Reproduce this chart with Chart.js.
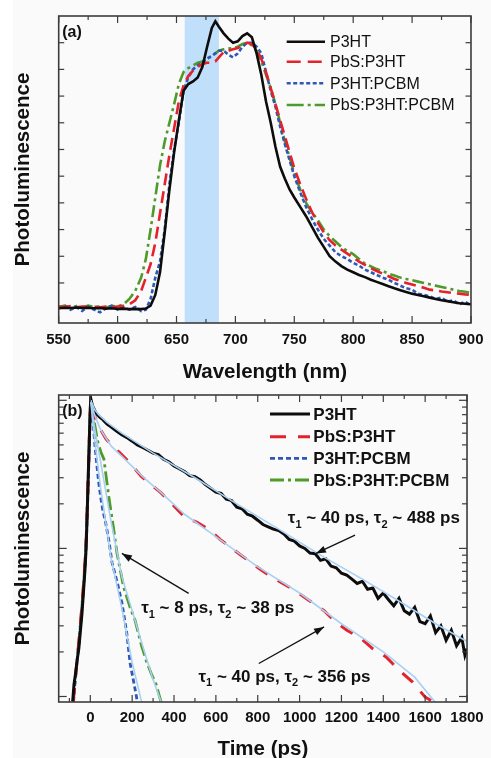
<!DOCTYPE html>
<html><head><meta charset="utf-8">
<script src="https://cdn.jsdelivr.net/npm/chart.js@4/dist/chart.umd.min.js"></script>
<style>
html,body{margin:0;padding:0;background:#fafafa;width:491px;height:758px;overflow:hidden;position:relative}
#strip{position:absolute;left:0;top:0;width:13px;height:758px;background:#fff}
#ca{position:absolute;left:0;top:0}
#cb{position:absolute;left:0;top:385px}
</style></head><body>
<div id="strip"></div>
<canvas id="ca" width="491" height="390"></canvas>
<canvas id="cb" width="491" height="373"></canvas>
<script>
// ---------------- Panel (a): steady-state PL ----------------
const wavelength = [550,555,560,565,570,575,580,585,590,595,600,605,610,615,620,
  624,628,632,636,640,644,648,652,656,660,664,668,672,676,680,683,686,
  690,694,698,702,706,710,714,718,722,726,730,734,738,742,746,750,
  755,760,765,770,775,780,785,790,795,800,805,810,815,820,825,830,835,840,845,850,
  855,860,865,870,875,880,885,890,895,900];
const plP3HT = [-0.095,-0.093,-0.094,-0.092,-0.094,-0.093,-0.095,-0.094,-0.096,-0.095,-0.097,-0.096,-0.098,-0.097,-0.098,
  -0.096,-0.085,-0.045,0.04,0.19,0.35,0.49,0.61,0.72,0.745,0.755,0.77,0.81,0.885,0.955,0.98,0.96,
  0.935,0.915,0.9,0.905,0.925,0.935,0.92,0.86,0.78,0.68,0.6,0.51,0.435,0.39,0.35,0.32,
  0.285,0.25,0.21,0.17,0.135,0.1,0.08,0.063,0.05,0.04,0.03,0.022,0.012,0.004,-0.004,-0.012,-0.02,-0.027,-0.034,-0.04,
  -0.045,-0.05,-0.055,-0.06,-0.065,-0.068,-0.072,-0.076,-0.078,-0.08];
const plPbS_P3HT = [-0.088,-0.09,-0.087,-0.091,-0.088,-0.09,-0.089,-0.091,-0.088,-0.09,-0.088,-0.086,-0.08,-0.065,-0.03,
  0.02,0.07,0.15,0.26,0.37,0.48,0.58,0.68,0.74,0.775,0.795,0.81,0.82,0.825,0.825,0.83,0.845,
  0.865,0.87,0.875,0.88,0.89,0.9,0.895,0.875,0.84,0.79,0.73,0.67,0.61,0.55,0.49,0.43,
  0.37,0.315,0.265,0.225,0.19,0.16,0.14,0.125,0.11,0.095,0.08,0.068,0.055,0.045,0.035,0.025,0.015,0.008,0.0,-0.006,
  -0.012,-0.018,-0.025,-0.028,-0.032,-0.035,-0.038,-0.04,-0.043,-0.044];
const plP3HT_PCBM = [-0.095,-0.085,-0.1,-0.09,-0.105,-0.088,-0.1,-0.11,-0.095,-0.085,-0.1,-0.092,-0.1,-0.09,-0.105,
  -0.1,-0.06,0.02,0.08,0.2,0.37,0.5,0.6,0.72,0.77,0.8,0.815,0.825,0.84,0.85,0.86,0.87,
  0.87,0.855,0.845,0.86,0.885,0.9,0.9,0.885,0.86,0.79,0.72,0.66,0.585,0.52,0.46,0.4,
  0.34,0.285,0.24,0.2,0.165,0.14,0.115,0.1,0.09,0.075,0.065,0.05,0.04,0.03,0.02,0.012,0.0,-0.01,-0.02,-0.025,
  -0.04,-0.045,-0.05,-0.06,-0.055,-0.07,-0.065,-0.08,-0.07,-0.085];
const plPbS_P3HT_PCBM = [-0.09,-0.085,-0.093,-0.087,-0.092,-0.085,-0.09,-0.088,-0.093,-0.086,-0.088,-0.08,-0.06,-0.03,0.02,
  0.09,0.2,0.32,0.44,0.53,0.6,0.67,0.745,0.79,0.805,0.815,0.825,0.83,0.84,0.85,0.86,0.87,
  0.875,0.878,0.88,0.885,0.895,0.9,0.89,0.87,0.83,0.78,0.73,0.67,0.6,0.53,0.47,0.41,
  0.35,0.3,0.265,0.235,0.2,0.175,0.155,0.135,0.12,0.108,0.09,0.072,0.062,0.052,0.045,0.035,0.028,0.02,0.015,0.01,
  0.005,0.0,-0.005,-0.01,-0.015,-0.02,-0.025,-0.03,-0.033,-0.037];
const excitationBand = [657, 686];
const wlTicks = [550,600,650,700,750,800,850,900];
const wlMinorTicks = [575,625,675,725,775,825,875];
const plTicks = [0,0.1,0.2,0.3,0.4,0.5,0.6,0.7,0.8,0.9];

// ---------------- Panel (b): time-resolved PL ----------------
const tP3HT = [-84,-78,-70,-62,-55,-48,-40,-33,-26,-20,-14,-8,-3,2,10,20,30,45,60,80,100,125,150,175,200,225,250,275,300,
  325,350,375,400,425,450,475,500,525,550,575,600,625,650,675,700,725,750,775,800,825,850,875,900,925,950,975,1000,
  1025,1050,1075,1100,1125,1150,1175,1200,1225,1250,1275,1300,1325,1350,1375,1400,1425,1450,1475,1500,1525,1550,
  1575,1600,1625,1650,1675,1700,1725,1750,1775,1790,1800];
const trP3HT = [0.0093,0.012,0.0145,0.018,0.021,0.027,0.036,0.05,0.07,0.1,0.19,0.38,0.65,1.03,0.92,0.86,0.81,0.77,0.74,0.69,0.66,0.62,0.585,0.56,0.53,0.5,0.48,0.46,0.44,
  0.43,0.4,0.385,0.36,0.345,0.33,0.31,0.305,0.29,0.27,0.255,0.24,0.235,0.215,0.21,0.19,0.185,0.17,0.165,0.155,0.145,0.14,0.135,0.132,0.125,0.115,0.112,0.104,
  0.1,0.093,0.092,0.083,0.085,0.076,0.074,0.068,0.066,0.062,0.058,0.06,0.053,0.054,0.046,0.05,0.045,0.041,0.046,0.038,0.036,0.04,
  0.032,0.031,0.035,0.027,0.03,0.024,0.028,0.022,0.025,0.019,0.021];
const tPbS_P3HT = [-82,-74,-64,-54,-44,-34,-26,-19,-13,-7,-2,2,10,20,35,50,75,100,139,180,245,290,338,390,450,510,571,620,665,720,774,820,868,920,977,1040,1117,1170,1226,1288,1350,1413,1475,1540,1600,1640];
const trPbS_P3HT = [0.0092,0.012,0.017,0.024,0.035,0.053,0.078,0.12,0.22,0.42,0.75,1.03,0.88,0.79,0.69,0.63,0.55,0.5,0.445,0.39,0.305,0.27,0.237,0.2,0.163,0.15,0.133,0.115,0.103,0.09,0.079,0.071,0.064,0.058,0.052,0.045,0.038,0.032,0.028,0.025,0.021,0.0185,0.0151,0.0125,0.0099,0.0092];
const tP3HT_PCBM = [-80,-72,-62,-52,-42,-32,-24,-18,-12,-6,-1,2,8,15,22,30,40,50,60,73,90,104,130,151,174,190,210,225];
const trP3HT_PCBM = [0.0092,0.013,0.018,0.025,0.037,0.055,0.08,0.12,0.22,0.42,0.75,1.0,0.85,0.66,0.5,0.38,0.28,0.22,0.18,0.15,0.11,0.08,0.058,0.043,0.027,0.0168,0.012,0.0092];
const tPbS_P3HT_PCBM = [-82,-74,-64,-54,-44,-34,-26,-19,-13,-7,-2,2,10,20,35,50,65,89,110,128,159,190,213,245,270,291,315,338];
const trPbS_P3HT_PCBM = [0.0092,0.012,0.017,0.024,0.035,0.053,0.078,0.12,0.22,0.42,0.75,1.0,0.85,0.7,0.53,0.45,0.4,0.22,0.14,0.092,0.055,0.04,0.033,0.022,0.017,0.0143,0.012,0.0092];
// bi-exponential fits (light blue)
const tFitP3HT = [2,20,40,80,150,300,500,700,900,1100,1300,1500,1650,1800];
const fitP3HT = [1.0,0.87,0.8,0.71,0.6,0.44,0.3,0.2,0.135,0.09,0.062,0.042,0.031,0.0235];
const tFitPbS_P3HT = [2,20,50,100,150,250,350,450,600,800,1000,1200,1400,1550,1646];
const fitPbS_P3HT = [1.0,0.8,0.63,0.49,0.42,0.305,0.23,0.17,0.12,0.075,0.05,0.031,0.02,0.0135,0.0092];
const tFitP3HT_PCBM = [2,20,50,100,150,200,245];
const fitP3HT_PCBM = [1.0,0.55,0.25,0.085,0.04,0.017,0.0092];
const tFitPbS_P3HT_PCBM = [2,20,50,100,150,200,250,300,338];
const fitPbS_P3HT_PCBM = [1.0,0.65,0.38,0.15,0.065,0.038,0.022,0.013,0.0092];
const timeTicks = [0,200,400,600,800,1000,1200,1400,1600,1800];
const timeMinorTicks = [-100,100,300,500,700,900,1100,1300,1500,1700];
const logMajorTicks = [0.01,0.1,1];
const logMinorTicks = [0.02,0.03,0.04,0.05,0.06,0.07,0.08,0.09,0.2,0.3,0.4,0.5,0.6,0.7,0.8,0.9];

const seriesNames = ['P3HT','PbS:P3HT','P3HT:PCBM','PbS:P3HT:PCBM'];

// ---------------- styling ----------------
const FONT = '"Liberation Sans", Arial, Helvetica, sans-serif';
const C = {black:'#0d0d0d', red:'#e4222b', blue:'#2f57b5', green:'#4e9a2b', fit:'#a7d0f2', band:'#bfdffa', frame:'#3c3c3c'};
const pts = (xs, ys) => xs.map((v, i) => ({x: v, y: ys[i]}));

function drawTicks(ctx, a, xs, ys, cfg) {
  const line = (x1,y1,x2,y2)=>{ctx.beginPath();ctx.moveTo(x1,y1);ctx.lineTo(x2,y2);ctx.stroke();};
  cfg.xMajor.forEach(v=>{const p=xs.getPixelForValue(v); line(p,a.bottom,p,a.bottom-cfg.lenMajor); line(p,a.top,p,a.top+cfg.lenMajor);});
  cfg.xMinor.forEach(v=>{const p=xs.getPixelForValue(v); line(p,a.bottom,p,a.bottom-cfg.lenMinor); line(p,a.top,p,a.top+cfg.lenMinor);});
  cfg.yMajor.forEach(v=>{const p=ys.getPixelForValue(v); line(a.left,p,a.left+cfg.lenYMajor,p); line(a.right,p,a.right-cfg.lenYMajor,p);});
  cfg.yMinor.forEach(v=>{const p=ys.getPixelForValue(v); line(a.left,p,a.left+cfg.lenYMinor,p); line(a.right,p,a.right-cfg.lenYMinor,p);});
}

function drawTauText(ctx, x, y, parts, size) {
  let cx = x;
  parts.forEach(([txt, sub]) => {
    if (sub) { ctx.font = `bold ${Math.round(size*0.62)}px ${FONT}`; ctx.fillText(txt, cx, y + size*0.38); }
    else { ctx.font = `bold ${size}px ${FONT}`; ctx.fillText(txt, cx, y); }
    cx += ctx.measureText(txt).width;
  });
}
function drawArrow(ctx, x1, y1, x2, y2) {
  ctx.beginPath(); ctx.moveTo(x1,y1); ctx.lineTo(x2,y2); ctx.stroke();
  const ang = Math.atan2(y2-y1, x2-x1), L = 10, W = 3.6;
  ctx.beginPath();
  ctx.moveTo(x2,y2);
  ctx.lineTo(x2 - L*Math.cos(ang) + W*Math.sin(ang), y2 - L*Math.sin(ang) - W*Math.cos(ang));
  ctx.lineTo(x2 - L*Math.cos(ang) - W*Math.sin(ang), y2 - L*Math.sin(ang) + W*Math.cos(ang));
  ctx.closePath(); ctx.fill();
}

function decorPlugin(cfg) {
  return {
    id: 'decor',
    beforeDatasetsDraw(chart) {
      if (!cfg.band) return;
      const {ctx, chartArea: a, scales: {x}} = chart;
      const x0 = x.getPixelForValue(cfg.band[0]), x1 = x.getPixelForValue(cfg.band[1]);
      ctx.save(); ctx.fillStyle = C.band; ctx.fillRect(x0, a.top, x1 - x0, a.bottom - a.top); ctx.restore();
    },
    afterDatasetsDraw(chart) {
      const {ctx, chartArea: a, scales: {x, y}} = chart;
      ctx.save();
      ctx.strokeStyle = C.frame; ctx.lineWidth = 1.2;
      drawTicks(ctx, a, x, y, cfg.ticks);
      ctx.lineWidth = 1.6;
      ctx.strokeRect(a.left, a.top, a.right - a.left, a.bottom - a.top);
      // panel tag
      ctx.fillStyle = '#111'; ctx.textBaseline = 'middle'; ctx.textAlign = 'left';
      ctx.font = `bold 16px ${FONT}`;
      ctx.fillText(cfg.tag, a.left + 3.5, a.top + cfg.tagDy);
      // legend
      const L = cfg.legend;
      ctx.font = L.font;
      chart.data.datasets.forEach((ds, i) => {
        if (!ds.inLegend) return;
        const yy = a.top + L.rows[ds.inLegend - 1];
        ctx.save();
        ctx.strokeStyle = ds.borderColor; ctx.lineWidth = ds.borderWidth;
        ctx.setLineDash(ds.legendDash || ds.borderDash || []);
        ctx.beginPath(); ctx.moveTo(L.x1, yy); ctx.lineTo(L.x2, yy); ctx.stroke();
        ctx.restore();
        ctx.fillStyle = '#111'; ctx.font = L.font;
        ctx.fillText(ds.label, L.tx, yy + 1);
      });
      // annotations
      if (cfg.notes) {
        ctx.fillStyle = '#111'; ctx.strokeStyle = '#111'; ctx.lineWidth = 1.3;
        cfg.notes.forEach(n => {
          drawTauText(ctx, x.getPixelForValue(n.at[0]), y.getPixelForValue(n.at[1]), n.parts, 17);
          drawArrow(ctx, x.getPixelForValue(n.from[0]), y.getPixelForValue(n.from[1]),
                         x.getPixelForValue(n.to[0]), y.getPixelForValue(n.to[1]));
        });
      }
      ctx.restore();
    }
  };
}

function fixedSizes(yWidth, xHeight) {
  return {
    x: (s) => { s.height = xHeight; },
    y: (s) => { s.width = yWidth; }
  };
}

const titleFont = {family: FONT, size: 20.5, weight: 'bold'};
const tickFont = {family: FONT, size: 15, weight: 'bold'};
const plainLabel = (v) => String(v);

// ---------------- Chart (a) ----------------
const fa = fixedSizes(58.7, 67);
new Chart(document.getElementById('ca'), {
  type: 'line',
  data: {
    datasets: [
      {label: seriesNames[0], data: pts(wavelength, plP3HT), borderColor: C.black, borderWidth: 2.6, inLegend: 1},
      {label: seriesNames[1], data: pts(wavelength, plPbS_P3HT), borderColor: C.red, borderWidth: 2.6, borderDash: [12,6], legendDash: [14,7], inLegend: 2},
      {label: seriesNames[2], data: pts(wavelength, plP3HT_PCBM), borderColor: C.blue, borderWidth: 2.6, borderDash: [4,2.5], inLegend: 3},
      {label: seriesNames[3], data: pts(wavelength, plPbS_P3HT_PCBM), borderColor: C.green, borderWidth: 2.6, borderDash: [12,4,3,4], legendDash: [17,4,3,4], inLegend: 4}
    ]
  },
  options: {
    responsive: false, animation: false, devicePixelRatio: 1,
    layout: {padding: {top: 16, right: 15.3, left: 0, bottom: 0}},
    elements: {point: {radius: 0}, line: {tension: 0, fill: false}},
    plugins: {legend: {display: false}, tooltip: {enabled: false}},
    scales: {
      x: {type: 'linear', min: 550, max: 900,
        afterBuildTicks: s => { s.ticks = wlTicks.map(v => ({value: v})); },
        afterFit: fa.x,
        grid: {display: false, drawTicks: false}, border: {display: false},
        ticks: {font: tickFont, color: '#111', padding: 7.5, maxRotation: 0, autoSkip: false, callback: plainLabel},
        title: {display: true, text: 'Wavelength (nm)', font: {...titleFont, lineHeight: 1.2}, color: '#111', padding: {top: 0, bottom: 5.7}}
      },
      y: {type: 'linear', min: -0.15, max: 1.0,
        afterFit: fa.y,
        grid: {display: false, drawTicks: false}, border: {display: false},
        ticks: {display: false},
        title: {display: true, text: 'Photoluminescence', font: {...titleFont, lineHeight: 1.2}, color: '#111', padding: {top: 10.7, bottom: 0}}
      }
    }
  },
  plugins: [decorPlugin({
    band: excitationBand, tag: '(a)', tagDy: 17,
    ticks: {xMajor: wlTicks, xMinor: wlMinorTicks, yMajor: plTicks, yMinor: [], lenMajor: 7, lenMinor: 4, lenYMajor: 5.5, lenYMinor: 3},
    legend: {font: `16px ${FONT}`, x1: 286.7, x2: 325, tx: 330, rows: [25.7, 45.7, 67.3, 89]}
  })]
});

// ---------------- Chart (b) ----------------
const fb = fixedSizes(58.7, 56);
new Chart(document.getElementById('cb'), {
  type: 'line',
  data: {
    datasets: [
      {label: 'fit1', data: pts(tFitP3HT, fitP3HT), borderColor: C.fit, borderWidth: 1.6, order: 0},
      {label: 'fit2', data: pts(tFitPbS_P3HT, fitPbS_P3HT), borderColor: C.fit, borderWidth: 1.6, order: 0},
      {label: 'fit3', data: pts(tFitP3HT_PCBM, fitP3HT_PCBM), borderColor: C.fit, borderWidth: 1.6, order: 0},
      {label: 'fit4', data: pts(tFitPbS_P3HT_PCBM, fitPbS_P3HT_PCBM), borderColor: C.fit, borderWidth: 1.6, order: 0},
      {label: seriesNames[0], data: pts(tP3HT, trP3HT), borderColor: C.black, borderWidth: 3, inLegend: 1, order: 1},
      {label: seriesNames[1], data: pts(tPbS_P3HT, trPbS_P3HT), borderColor: C.red, borderWidth: 3, borderDash: [14,12], legendDash: [16,12], inLegend: 2, order: 2},
      {label: seriesNames[2], data: pts(tP3HT_PCBM, trP3HT_PCBM), borderColor: C.blue, borderWidth: 2.8, borderDash: [5,3], inLegend: 3, order: 3},
      {label: seriesNames[3], data: pts(tPbS_P3HT_PCBM, trPbS_P3HT_PCBM), borderColor: C.green, borderWidth: 2.8, borderDash: [14,4,3,4], inLegend: 4, order: 4}
    ]
  },
  options: {
    responsive: false, animation: false, devicePixelRatio: 1,
    layout: {padding: {top: 10, right: 15.3, left: 0, bottom: 0}},
    elements: {point: {radius: 0}, line: {tension: 0, fill: false}},
    plugins: {legend: {display: false}, tooltip: {enabled: false}},
    scales: {
      x: {type: 'linear', min: -151, max: 1800,
        afterBuildTicks: s => { s.ticks = timeTicks.map(v => ({value: v})); },
        afterFit: fb.x,
        grid: {display: false, drawTicks: false}, border: {display: false},
        ticks: {font: tickFont, color: '#111', padding: 7.3, maxRotation: 0, autoSkip: false, callback: plainLabel},
        title: {display: true, text: 'Time (ps)', font: {...titleFont, lineHeight: 0.8}, color: '#111', padding: {top: 0, bottom: 0.8}}
      },
      y: {type: 'logarithmic', min: 0.00918, max: 1.086,
        afterFit: fb.y,
        grid: {display: false, drawTicks: false}, border: {display: false},
        ticks: {display: false},
        title: {display: true, text: 'Photoluminescence', font: {...titleFont, lineHeight: 1.2}, color: '#111', padding: {top: 10.7, bottom: 0}}
      }
    }
  },
  plugins: [decorPlugin({
    tag: '(b)', tagDy: 16.5,
    ticks: {xMajor: timeTicks, xMinor: timeMinorTicks, yMajor: logMajorTicks, yMinor: logMinorTicks, lenMajor: 7, lenMinor: 4, lenYMajor: 8, lenYMinor: 5},
    legend: {font: `bold 17px ${FONT}`, x1: 270, x2: 310, tx: 313.3, rows: [19, 41.7, 63.3, 85]},
    notes: [
      {at: [944, 0.16], parts: [['τ',0],['1',1],[' ~ 40 ps, τ',0],['2',1],[' ~ 488 ps',0]], from: [1265, 0.123], to: [1078, 0.0925]},
      {at: [243, 0.0395], parts: [['τ',0],['1',1],[' ~ 8 ps, τ',0],['2',1],[' ~ 38 ps',0]], from: [470, 0.0497], to: [151, 0.0925]},
      {at: [517, 0.01356], parts: [['τ',0],['1',1],[' ~ 40 ps, τ',0],['2',1],[' ~ 356 ps',0]], from: [805, 0.0167], to: [1117, 0.0295]}
    ]
  })]
});
</script>
</body></html>
